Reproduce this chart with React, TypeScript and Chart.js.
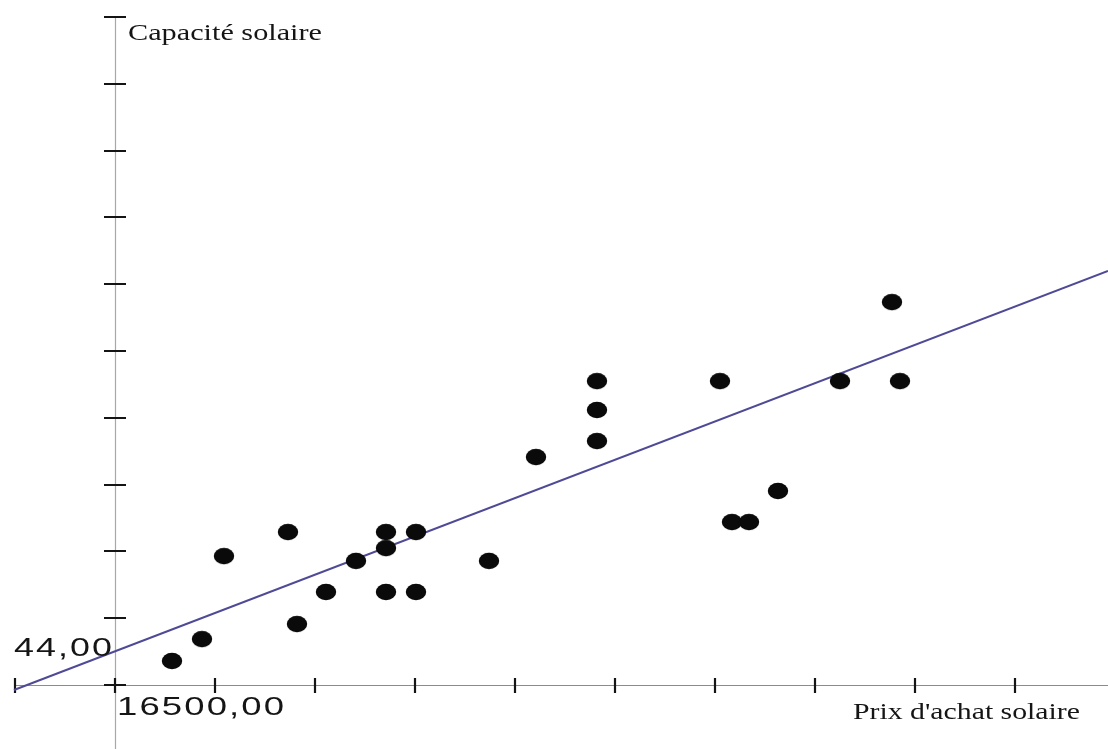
import React, { useEffect, useRef } from "react";
import { Chart, registerables } from "chart.js";

Chart.register(...registerables);

// ---- data ----
const priceValues = [
  16785, 16935, 17045, 17365, 17410, 17555, 17705, 17855, 17855, 17855, 18005, 18005,
  18370, 18605, 18910, 18910, 18910, 19525, 19585, 19670, 19815, 20125, 20385, 20425,
];
const capacityValues = [
  45.44, 46.75, 51.72, 53.16, 47.65, 49.57, 51.43, 53.16, 52.2, 49.57, 53.16, 49.57,
  51.43, 57.65, 62.2, 60.47, 58.61, 62.2, 53.76, 53.76, 55.62, 62.2, 66.93, 62.2,
];
const trendX = [15995, 21465];
const trendY = [43.7, 68.79];

const xTickValues = [16000, 16500, 17000, 17500, 18000, 18500, 19000, 19500, 20000, 20500, 21000];
const yTickValues = [44, 48, 52, 56, 60, 64, 68, 72, 76, 80, 84];
const xOrigin = 16500;
const yOrigin = 44;
const xOriginLabel = "16500,00";
const yOriginLabel = "44,00";
const xTitle = "Prix d'achat solaire";
const yTitle = "Capacité solaire";

const X_MIN = 15925;
const X_MAX = 21465;
const Y_MIN = 40.168;
const Y_MAX = 85.018;

function makeDot(): HTMLCanvasElement {
  const c = document.createElement("canvas");
  c.width = 22;
  c.height = 18;
  const g = c.getContext("2d")!;
  g.fillStyle = "#0a0a0a";
  g.beginPath();
  g.ellipse(11, 9, 10.2, 8.2, 0, 0, Math.PI * 2);
  g.fill();
  return c;
}

function drawStretched(
  ctx: CanvasRenderingContext2D,
  text: string,
  x: number,
  baseline: number,
  font: string,
  targetWidth: number,
  align: "left" | "right",
  spacing = 0
) {
  ctx.save();
  ctx.font = font;
  (ctx as any).letterSpacing = spacing + "px";
  const w = ctx.measureText(text).width - spacing;
  const s = targetWidth / w;
  const left = align === "left" ? x : x - targetWidth;
  ctx.translate(left, baseline);
  ctx.scale(s, 1);
  ctx.textAlign = "left";
  ctx.textBaseline = "alphabetic";
  ctx.fillStyle = "#151515";
  ctx.fillText(text, 0, 0);
  ctx.restore();
}

const axesPlugin = {
  id: "originAxes",
  beforeDatasetsDraw(chart: any) {
    const ctx: CanvasRenderingContext2D = chart.ctx;
    const xs = chart.scales.x;
    const ys = chart.scales.y;
    const ox = xs.getPixelForValue(xOrigin);
    const oy = ys.getPixelForValue(yOrigin);
    const xFirst = xs.getPixelForValue(xTickValues[0]);
    const yTop = ys.getPixelForValue(yTickValues[yTickValues.length - 1]);
    ctx.save();
    ctx.strokeStyle = "#a8a8a8";
    ctx.lineWidth = 1.2;
    ctx.beginPath();
    ctx.moveTo(Math.round(ox) + 0.5, yTop);
    ctx.lineTo(Math.round(ox) + 0.5, chart.height);
    ctx.stroke();
    ctx.strokeStyle = "#8c8c8c";
    ctx.beginPath();
    ctx.moveTo(xFirst, Math.round(oy) + 0.5);
    ctx.lineTo(chart.width, Math.round(oy) + 0.5);
    ctx.stroke();
    ctx.strokeStyle = "#141414";
    ctx.lineWidth = 2.2;
    for (const v of xTickValues) {
      const px = Math.round(xs.getPixelForValue(v));
      ctx.beginPath();
      ctx.moveTo(px, oy - 7);
      ctx.lineTo(px, oy + 8);
      ctx.stroke();
    }
    ctx.lineWidth = 2;
    for (const v of yTickValues) {
      const py = Math.round(ys.getPixelForValue(v));
      ctx.beginPath();
      ctx.moveTo(ox - 11, py);
      ctx.lineTo(ox + 11, py);
      ctx.stroke();
    }
    ctx.restore();
  },
  afterDraw(chart: any) {
    const ctx: CanvasRenderingContext2D = chart.ctx;
    const xs = chart.scales.x;
    const ys = chart.scales.y;
    const ox = xs.getPixelForValue(xOrigin);
    const oy = ys.getPixelForValue(yOrigin);
    const yTop = ys.getPixelForValue(yTickValues[yTickValues.length - 1]);
    const numFont = "26px 'Liberation Sans'";
    const serif = "23px 'Liberation Serif'";
    drawStretched(ctx, yOriginLabel, ox - 3, oy - 29, numFont, 98, "right", 1.5);
    drawStretched(ctx, xOriginLabel, ox + 2, oy + 30, numFont, 167, "left", 1.5);
    drawStretched(ctx, yTitle, ox + 13, yTop + 23, serif, 194, "left");
    drawStretched(ctx, xTitle, 1080, oy + 34, serif, 227, "right");
  },
};

export default function App() {
  const ref = useRef<HTMLCanvasElement | null>(null);
  useEffect(() => {
    if (!ref.current) return;
    const dot = makeDot();
    const chart = new Chart(ref.current, {
      type: "scatter",
      data: {
        datasets: [
          {
            label: "points",
            data: priceValues.map((x, i) => ({ x, y: capacityValues[i] })),
            pointStyle: dot as any,
            pointRadius: 10,
            backgroundColor: "#0a0a0a",
            borderColor: "#0a0a0a",
          },
          {
            label: "trend",
            data: trendX.map((x, i) => ({ x, y: trendY[i] })),
            showLine: true,
            borderColor: "#4f4a96",
            borderWidth: 2,
            pointRadius: 0,
            fill: false,
          },
        ],
      },
      options: {
        responsive: false,
        animation: false,
        layout: { padding: 0, autoPadding: false },
        plugins: { legend: { display: false }, tooltip: { enabled: false } },
        scales: {
          x: { type: "linear", min: X_MIN, max: X_MAX, display: false },
          y: { type: "linear", min: Y_MIN, max: Y_MAX, display: false },
        },
      },
      plugins: [axesPlugin],
    });
    return () => chart.destroy();
  }, []);
  return (
    <div style={{ position: "fixed", left: 0, top: 0, width: 1108, height: 749, background: "#fff" }}>
      <canvas ref={ref} width={1108} height={749} style={{ display: "block" }} />
    </div>
  );
}
